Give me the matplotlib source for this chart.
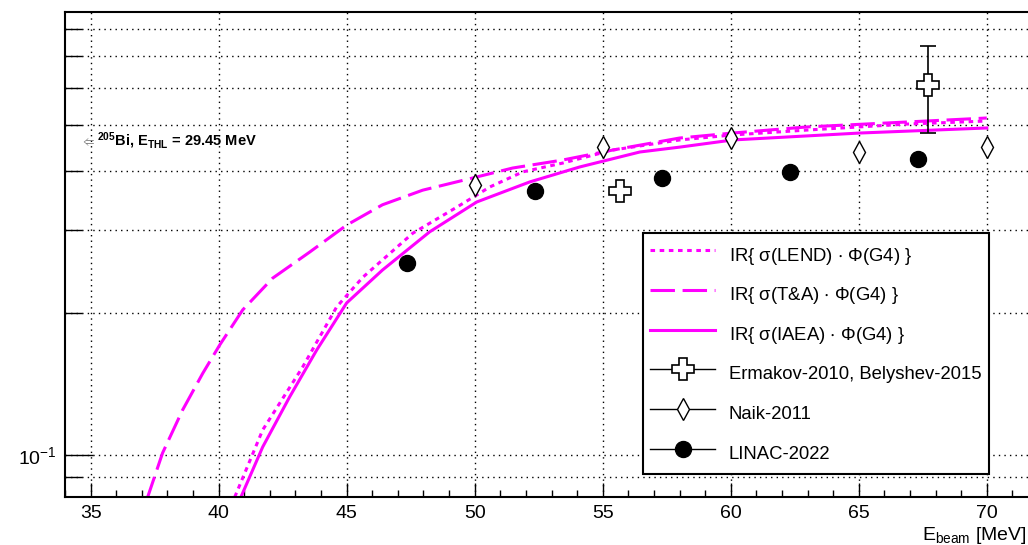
import matplotlib
matplotlib.use("Agg")
import matplotlib.pyplot as plt
from matplotlib.ticker import MultipleLocator, NullFormatter
from matplotlib.lines import Line2D

plt.rcParams['font.family'] = ['Liberation Sans', 'DejaVu Sans']
plt.rcParams['mathtext.fontset'] = 'custom'
plt.rcParams['mathtext.rm'] = 'Liberation Sans'
plt.rcParams['mathtext.it'] = 'Liberation Sans:italic'
plt.rcParams['mathtext.bf'] = 'Liberation Sans:bold'
plt.rcParams['mathtext.default'] = 'regular'

# yield-ratio curves (simulation) vs beam energy
e_lend = [40.63, 41.72, 43.28, 44.61, 45.63, 47.58, 49.30, 50.59, 51.88, 53.44,
          55.39, 58.0, 60.08, 62.97, 66.88, 70.0]
ir_lend = [0.0815, 0.113, 0.1536, 0.206, 0.238, 0.295, 0.335, 0.3697, 0.398, 0.4155,
           0.4427, 0.465, 0.4765, 0.488, 0.5025, 0.510]

e_ta = [37.19, 37.81, 38.59, 39.38, 40.04, 40.94, 42.11, 43.55, 45.0, 46.4,
        47.97, 49.92, 51.48, 53.44, 55.39, 58.0, 60.08, 62.97, 66.88, 70.0]
ir_ta = [0.0803, 0.101, 0.1245, 0.149, 0.171, 0.203, 0.237, 0.269, 0.307, 0.339,
         0.364, 0.3863, 0.4055, 0.4217, 0.4427, 0.4694, 0.481, 0.4955, 0.5076, 0.5176]

e_iaea = [40.82, 41.72, 42.77, 43.83, 45.0, 46.4, 48.24, 50.08, 52.15, 54.1,
          56.45, 58.0, 60.08, 65.04, 70.0]
ir_iaea = [0.0803, 0.104, 0.1327, 0.1669, 0.210, 0.2466, 0.297, 0.3436, 0.3789, 0.4076,
           0.4385, 0.449, 0.465, 0.481, 0.493]

# experimental points
e_erm = [55.66, 67.7]
ir_erm = [0.3625, 0.608]
err_erm = [0.0, 0.126]

e_naik = [50.0, 55.0, 60.0, 65.0, 70.0]
ir_naik = [0.373, 0.449, 0.469, 0.4385, 0.449]

e_linac = [47.34, 52.34, 57.3, 62.3, 67.3]
ir_linac = [0.255, 0.3625, 0.3863, 0.3982, 0.4239]

MAG = '#ff00ff'
W, H = 1028, 545

fig = plt.figure(figsize=(W / 100, H / 100), dpi=100)
ax = fig.add_axes([65 / W, 1 - 497 / H, (1038 - 65) / W, (497 - 12) / H])
ax.set_yscale('log')
ax.set_xlim(34, 72)
ax.set_ylim(0.0815, 0.868)

ax.plot(e_lend, ir_lend, color=MAG, lw=2.2, linestyle=(0, (1.5, 1.5)))
ax.plot(e_ta, ir_ta, color=MAG, lw=2.2, linestyle=(0, (8, 2.5)))
ax.plot(e_iaea, ir_iaea, color=MAG, lw=2.2)

ax.errorbar(e_erm, ir_erm, yerr=err_erm, fmt='P', ms=16, mfc='white', mec='black',
            mew=1.2, ecolor='black', elinewidth=1.2, capsize=6, capthick=1.2, zorder=5)
ax.plot(e_naik, ir_naik, 'd', ms=10.7, mfc='white', mec='black', mew=1.0, zorder=5)
ax.plot(e_linac, ir_linac, 'o', ms=11.5, color='black', zorder=5)

# axes, ticks and grid
ax.xaxis.set_major_locator(MultipleLocator(5))
ax.xaxis.set_minor_locator(MultipleLocator(1))
ax.set_yticks([0.1])
ax.set_yticklabels([r'$10^{-1}$'])
ax.set_yticks([0.09, 0.2, 0.3, 0.4, 0.5, 0.6, 0.7, 0.8], minor=True)
ax.yaxis.set_minor_formatter(NullFormatter())
ax.tick_params(axis='x', which='major', direction='in', length=10, width=1, labelsize=14, pad=6)
ax.tick_params(axis='x', which='minor', direction='in', length=5, width=1)
ax.tick_params(axis='y', which='major', direction='in', length=20, width=1, labelsize=14, pad=6)
ax.tick_params(axis='y', which='minor', direction='in', length=12, width=1)
ax.xaxis.grid(True, which='major', color='black', linestyle=(0, (1, 3)), lw=1)
ax.yaxis.grid(True, which='both', color='black', linestyle=(0, (1, 3)), lw=1)
ax.set_axisbelow(True)
for s in ax.spines.values():
    s.set_linewidth(1.5)

handles = [
    Line2D([], [], color=MAG, lw=2.2, linestyle=(0, (1.5, 1.5))),
    Line2D([], [], color=MAG, lw=2.2, linestyle=(0, (8, 2.5))),
    Line2D([], [], color=MAG, lw=2.2),
    Line2D([], [], color='black', lw=1, marker='P', ms=16, mfc='white', mec='black', mew=1.2),
    Line2D([], [], color='black', lw=1, marker='d', ms=10.7, mfc='white', mec='black', mew=1.0),
    Line2D([], [], color='black', lw=1, marker='o', ms=11.5, mfc='black', mec='black'),
]
labels = [
    r'IR{ $\sigma$(LEND) $\cdot$ $\Phi$(G4) }',
    r'IR{ $\sigma$(T&A) $\cdot$ $\Phi$(G4) }',
    r'IR{ $\sigma$(IAEA) $\cdot$ $\Phi$(G4) }',
    'Ermakov-2010, Belyshev-2015',
    'Naik-2011',
    'LINAC-2022',
]
leg = ax.legend(handles, labels, loc='upper left',
                bbox_to_anchor=(643 / W, 1 - 233 / H), bbox_transform=fig.transFigure,
                fontsize=13.3, handlelength=3.5, handleheight=2.0, handletextpad=0.75,
                labelspacing=0.6, borderpad=0.4, borderaxespad=0, fancybox=False,
                framealpha=1, edgecolor='black')
leg.get_frame().set_linewidth(1.5)

fig.text(80 / W, 1 - 141 / H, r'$\Leftarrow$', color='grey', fontsize=9, va='center')
fig.text(97 / W, 1 - 141 / H, r'$^{205}$Bi, E$_{THL}$ = 29.45 MeV', fontsize=10.5,
         fontweight='bold', va='center')
fig.text(922 / W, 1 - 540 / H, r'E$_{beam}$ [MeV]', fontsize=14, va='baseline')

fig.savefig('out.png', dpi=100)
